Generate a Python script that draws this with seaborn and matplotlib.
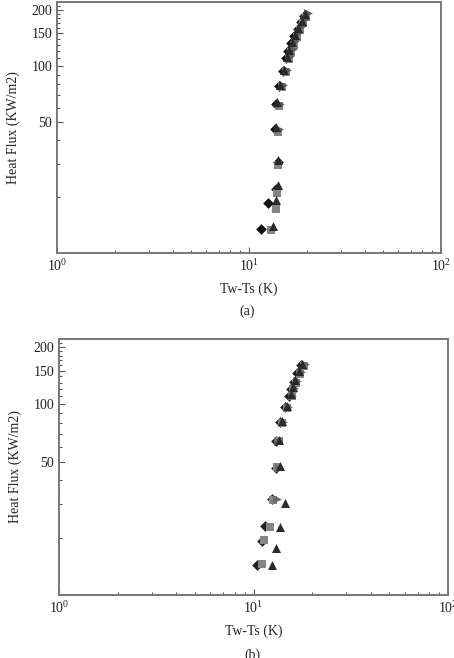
import matplotlib
matplotlib.use('Agg')
import matplotlib.pyplot as plt
import matplotlib.ticker as mticker
import seaborn as sns

# ============================================================
# Veri
# ============================================================
# Panel (a)
a_diamond_x = [11.6, 12.5, 13.8, 14.1, 13.7, 13.8, 14.3, 15.0, 15.6, 16.0, 16.6, 17.2, 17.9, 18.6, 19.3]
a_diamond_q = [13.4, 18.6, 22.0, 30.5, 46, 63, 78, 94, 110, 120, 132, 145, 158, 172, 186]
a_tri_x = [13.3, 13.9, 14.1, 14.2, 13.9, 14.0, 14.5, 15.2, 15.8, 16.2, 16.8, 17.4, 18.1, 18.8, 19.6]
a_tri_q = [13.9, 19.3, 23.2, 31.5, 47, 64, 79, 95, 112, 122, 134, 147, 160, 175, 190]
a_sq_x = [13.0, 13.8, 14.0, 14.2, 14.2, 14.3, 14.8, 15.5, 16.2, 16.6, 17.2, 17.8, 18.5, 19.2, 19.9]
a_sq_q = [13.2, 17.2, 21.0, 29.5, 44.5, 61, 77, 93, 109, 119, 130, 143, 156, 170, 184]
a_right_x = [14.4, 14.5, 15.0, 15.8, 16.4, 16.9, 17.4, 18.1, 18.8, 19.5, 20.2]
a_right_q = [46, 63, 79, 95, 113, 124, 136, 150, 163, 178, 192]

# Panel (b)
b_diamond_x = [10.4, 11.1, 11.4, 12.5, 13.0, 13.1, 13.7, 14.5, 15.3, 15.6, 16.1, 16.7, 17.5]
b_diamond_q = [14.4, 19.1, 22.9, 31.7, 46.6, 64.5, 80.6, 96.8, 111, 121, 131, 146, 161]
b_sq_x = [11.0, 11.3, 12.2, 12.6, 13.2, 13.5, 14.0, 14.8, 15.7, 16.0, 16.6, 17.3, 18.1]
b_sq_q = [14.6, 19.4, 22.7, 31.5, 46.8, 64, 80, 96, 110, 120, 130, 144, 158]
b_tri_x = [12.4, 13.1, 13.7, 14.5, 13.7, 13.6, 14.0, 14.8, 15.5, 15.9, 16.4, 17.1, 17.8]
b_tri_q = [14.4, 17.6, 22.7, 30.4, 47.5, 65, 82, 98, 113, 123, 134, 149, 163]
b_right_x = [13.2, 13.5, 13.4, 14.2, 15.0, 15.8, 16.2, 16.8, 17.5, 18.3]
b_right_q = [31.7, 46.6, 64.5, 80.6, 96.8, 111, 122, 133, 148, 162]

y_major = [50, 100, 150, 200]
y_minor = [20, 30, 40, 60, 70, 80, 90, 110, 120, 130, 140, 160, 170, 180, 190, 210]

sns.set_style('white')
plt.rcParams['font.family'] = ['Liberation Serif', 'DejaVu Serif']
plt.rcParams['mathtext.fontset'] = 'stix'

fig = plt.figure(figsize=(4.54, 6.58), dpi=100)
ax_a = fig.add_axes([57/454, 1-253/658, 384/454, 251/658])
ax_b = fig.add_axes([59/454, 1-595/658, 389/454, 256/658])


def ciz(ax, series):
    for xs, qs, m, c, s in series:
        sns.scatterplot(x=xs, y=qs, marker=m, color=c, s=s, linewidth=0, ax=ax)
    ax.set_xscale('log')
    ax.set_yscale('log')
    ax.set_xlim(1, 100)
    ax.set_ylim(10, 220)
    ax.yaxis.set_major_locator(mticker.FixedLocator(y_major))
    ax.yaxis.set_major_formatter(mticker.FixedFormatter([str(v) for v in y_major]))
    ax.yaxis.set_minor_locator(mticker.FixedLocator(y_minor))
    ax.yaxis.set_minor_formatter(mticker.NullFormatter())
    ax.xaxis.set_major_locator(mticker.LogLocator(base=10, numticks=5))
    ax.xaxis.set_minor_locator(mticker.LogLocator(base=10, subs=range(2, 10), numticks=20))
    ax.xaxis.set_minor_formatter(mticker.NullFormatter())
    ax.tick_params(which='both', direction='in', colors='#555555', labelcolor='#222222',
                   labelsize=10, width=0.8, bottom=True, left=True)
    ax.tick_params(which='major', length=4)
    ax.tick_params(which='minor', length=2.5)
    for sp in ax.spines.values():
        sp.set_color('#777777')
        sp.set_linewidth(1.4)
    ax.set_xlabel('Tw-Ts (K)', fontsize=10, color='#222222', labelpad=6)
    ax.set_ylabel('Heat Flux (KW/m2)', fontsize=10, color='#222222', labelpad=8)


# once elmaslar, sonra kareler, en ustte ucgenler
ciz(ax_a, [
    (a_diamond_x, a_diamond_q, 'D', '#111111', 30),
    (a_sq_x, a_sq_q, 's', '#858585', 40),
    (a_right_x, a_right_q, '>', '#5a5a5a', 40),
    (a_tri_x, a_tri_q, '^', '#2a2a2a', 42),
])
ciz(ax_b, [
    (b_diamond_x, b_diamond_q, 'D', '#222222', 30),
    (b_sq_x, b_sq_q, 's', '#858585', 40),
    (b_right_x, b_right_q, '>', '#6a6a6a', 40),
    (b_tri_x, b_tri_q, '^', '#2a2a2a', 42),
])

fig.text(247/454, 1-311/658, '(a)', ha='center', va='center', fontsize=10, color='#222222')
fig.text(252/454, 1-655/658, '(b)', ha='center', va='center', fontsize=10, color='#222222')

plt.savefig('out.png', dpi=100)
